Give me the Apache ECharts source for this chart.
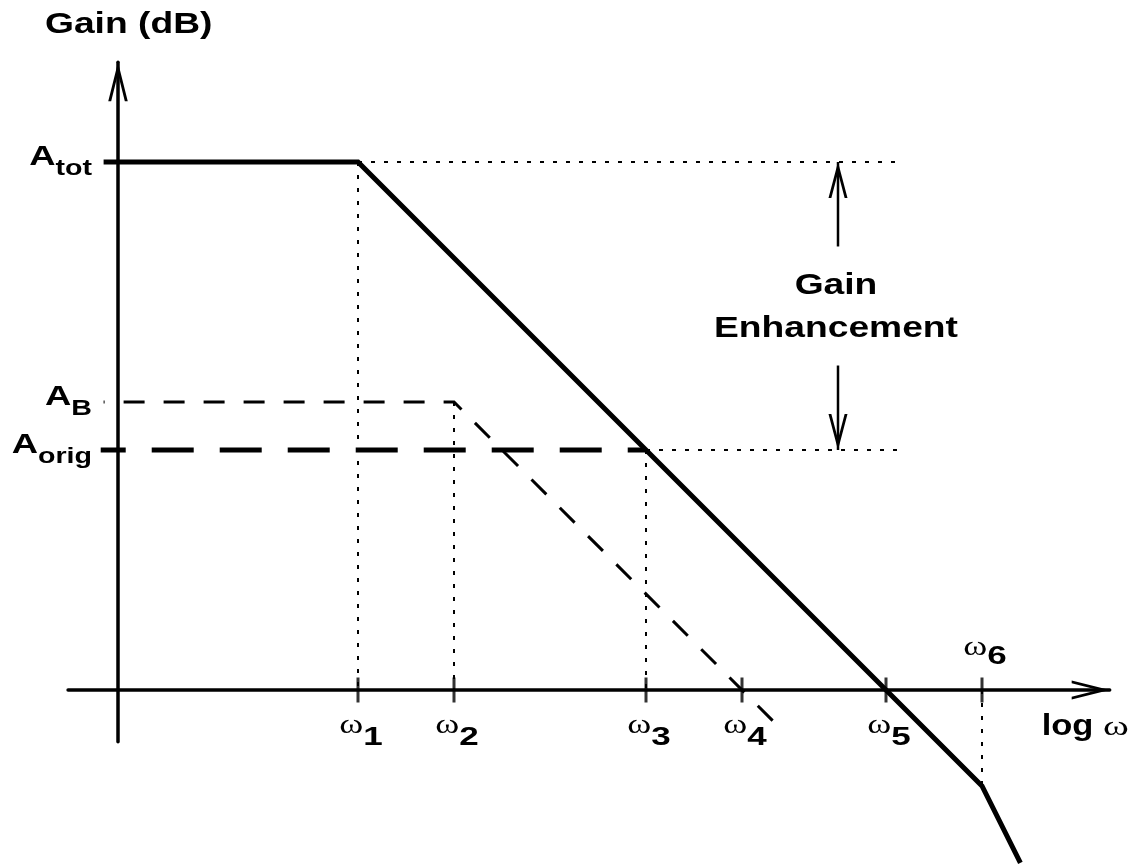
<!DOCTYPE html>
<html>
<head>
<meta charset="utf-8">
<script src="https://cdn.jsdelivr.net/npm/echarts@6/dist/echarts.min.js"></script>
<style>
html,body{margin:0;padding:0;background:#ffffff;}
#c{width:1136px;height:865px;}
</style>
</head>
<body>
<div id="c"></div>
<script>
// ---------- data (x in decades of log ω, y in gain units) ----------
const omegaLabels = ['1', '2', '3', '4', '5', '6'];
const omegaValues = [2.5, 3.5, 5.5, 6.5, 8.0, 9.0];
const gainLabels = ['tot', 'B', 'orig'];
const gainValues = [5.5, 3.0, 2.5];
// total (enhanced) gain asymptote
const totalX = [-0.15, 2.5, 8.0, 9.0, 9.4];
const totalY = [5.5, 5.5, 0.0, -1.0, -1.8];
// booster amplifier gain
const boostX = [-0.15, 3.5, 6.9];
const boostY = [3.0, 3.0, -0.4];
// original gain
const origX = [-0.18, 5.5];
const origY = [2.5, 2.5];
// dotted reference extensions of A_tot and A_orig
const refEndX = 8.15;
// gain enhancement arrow
const enhanceX = 7.5;
const enhanceTails = [4.62, 3.38];
// axis ranges
const xRange = [-0.52, 10.33];
const yRange = [-0.54, 6.54];

// ---------- helpers ----------
const CHEV = 'path://M10 0 L10 0 Z M10 40 L20 80 L17 80 L10 52 L3 80 L0 80 Z';
const SANS = '"Liberation Sans", Arial, sans-serif';
const SERIF = '"Liberation Serif", "Times New Roman", serif';
const zip = (xs, ys) => xs.map((x, i) => [x, ys[i]]);
const PXU = 96; // pixels per unit on both axes

function lineSeries(data, width, type, extra) {
  return Object.assign({
    type: 'line', data: data, symbol: 'none', clip: false, silent: true,
    animation: false,
    lineStyle: { color: '#000', width: width, type: type, join: 'miter', cap: 'butt' }
  }, extra || {});
}

const series = [];
// main curve
series.push(lineSeries(zip(totalX, totalY), 5, 'solid', { z: 5 }));
// A_B dashed
series.push(lineSeries(zip(boostX, boostY), 3, [21, 19], { z: 4 }));
series[1].lineStyle.dashOffset = 20;
// A_orig long dashes
series.push(lineSeries(zip(origX, origY), 5, [42, 26], { z: 4 }));
series[2].lineStyle.dashOffset = 17;

const DOT = [4, 9];
// horizontal dotted extensions
series.push(lineSeries([[totalX[1], gainValues[0]], [refEndX, gainValues[0]]], 2, DOT));
series.push(lineSeries([[omegaValues[2], gainValues[2]], [refEndX, gainValues[2]]], 2, DOT));
// vertical dotted guides
series.push(lineSeries([[omegaValues[0], gainValues[0]], [omegaValues[0], 0]], 2, DOT));
series.push(lineSeries([[omegaValues[1], gainValues[1]], [omegaValues[1], 0]], 2, DOT));
series.push(lineSeries([[omegaValues[2], gainValues[2]], [omegaValues[2], 0]], 2, DOT));
series.push(lineSeries([[omegaValues[5], 0], [omegaValues[5], totalY[3]]], 2, DOT));

// gain enhancement arrows
series.push(lineSeries([[enhanceX, enhanceTails[0]],
  { value: [enhanceX, gainValues[0]], symbol: CHEV, symbolSize: [19, 72], symbolRotate: 0 }],
  2.5, 'solid', { showSymbol: true, itemStyle: { color: '#000' }, z: 6 }));
series.push(lineSeries([[enhanceX, enhanceTails[1]],
  { value: [enhanceX, gainValues[2]], symbol: CHEV, symbolSize: [19, 72], symbolRotate: 180 }],
  2.5, 'solid', { showSymbol: true, itemStyle: { color: '#000' }, z: 6 }));

// x-axis tick marks
series.push({
  type: 'scatter', silent: true, animation: false, clip: false,
  data: omegaValues.map(v => [v, 0]),
  symbol: 'rect', symbolSize: [3, 25],
  itemStyle: { color: '#000' }, z: 7
});

const axisCommon = {
  type: 'value',
  axisTick: { show: false },
  axisLabel: { show: false },
  splitLine: { show: false }
};

const option = {
  animation: false,
  backgroundColor: '#ffffff',
  grid: {
    left: 118 + xRange[0] * PXU,
    top: 690 - yRange[1] * PXU,
    width: (xRange[1] - xRange[0]) * PXU,
    height: (yRange[1] - yRange[0]) * PXU
  },
  xAxis: Object.assign({}, axisCommon, {
    min: xRange[0], max: xRange[1],
    axisLine: { show: true, onZero: true, symbol: ['none', CHEV], symbolSize: [22, 76],
      lineStyle: { color: '#000', width: 3.5 } }
  }),
  yAxis: Object.assign({}, axisCommon, {
    min: yRange[0], max: yRange[1],
    axisLine: { show: true, onZero: true, symbol: ['none', CHEV], symbolSize: [20, 78],
      lineStyle: { color: '#000', width: 3.5 } }
  }),
  series: series
};

const chart = echarts.init(document.getElementById('c'), null, { renderer: 'canvas' });
chart.setOption(option);

// ---------- text annotations positioned via the chart's own scales ----------
const toPx = (x, y) => chart.convertToPixel({ gridIndex: 0 }, [x, y]);
const mctx = document.createElement('canvas').getContext('2d');
function tw(text, size, family, weight) {
  mctx.font = weight + ' ' + size + 'px ' + family;
  return mctx.measureText(text).width;
}
function txt(text, x, baseline, size, family, weight, sx) {
  return {
    type: 'text', x: x, y: baseline - 0.35 * size, scaleX: sx, scaleY: 1, silent: true, z: 20,
    style: { text: text, fontSize: size, fontFamily: family, fontWeight: weight,
      fill: '#000', align: 'left', verticalAlign: 'middle' }
  };
}
// parts: [text, size, family, weight, dy, scaleX]
function comp(parts, ax, baseline, align) {
  const widths = parts.map(p => tw(p[0], p[1], p[2], p[3]) * (p[5] || 1));
  const total = widths.reduce((a, b) => a + b, 0);
  let x = align === 'right' ? ax - total : (align === 'center' ? ax - total / 2 : ax);
  return parts.map((p, i) => {
    const e = txt(p[0], x, baseline + (p[4] || 0), p[1], p[2], p[3], p[5] || 1);
    x += widths[i];
    return e;
  });
}

const origin = toPx(0, 0);
const topPx = toPx(0, yRange[1]);
const endPx = toPx(xRange[1], 0);
let g = [];
// y-axis title
g = g.concat(comp([['Gain (dB)', 30, SANS, 'bold', 0, 1.24]], origin[0] - 73, topPx[1] - 27, 'left'));
// A labels
gainLabels.forEach((lab, i) => {
  const ly = toPx(0, gainValues[i])[1];
  g = g.concat(comp([['A', 28, SANS, 'bold', 0, 1.3], [lab, 22, SANS, 'bold', 10, 1.3]], origin[0] - 26, ly + 5, 'right'));
});
// omega labels
omegaLabels.forEach((lab, i) => {
  const p = toPx(omegaValues[i], 0);
  const above = i === 5;
  const base = above ? p[1] - 33 : p[1] + 45;
  g = g.concat(comp([['ω', 27, SERIF, 'normal', 0, 1.35], [lab, 25, SANS, 'bold', above ? 9 : 12, 1.4]], p[0] + 3, base, 'center'));
});
// x axis title
g = g.concat(comp([['log ', 30, SANS, 'bold', 0, 1.15], ['ω', 28, SERIF, 'normal', 0, 1.4]], endPx[0] - 68, origin[1] + 47, 'left'));
// gain enhancement text
const ex = toPx(enhanceX, gainValues[0]);
g = g.concat(comp([['Gain', 30, SANS, 'bold', 0, 1.24]], ex[0] - 2, ex[1] + 134, 'center'));
g = g.concat(comp([['Enhancement', 30, SANS, 'bold', 0, 1.24]], ex[0] - 2, ex[1] + 177, 'center'));

chart.setOption({ graphic: g });
</script>
</body>
</html>
